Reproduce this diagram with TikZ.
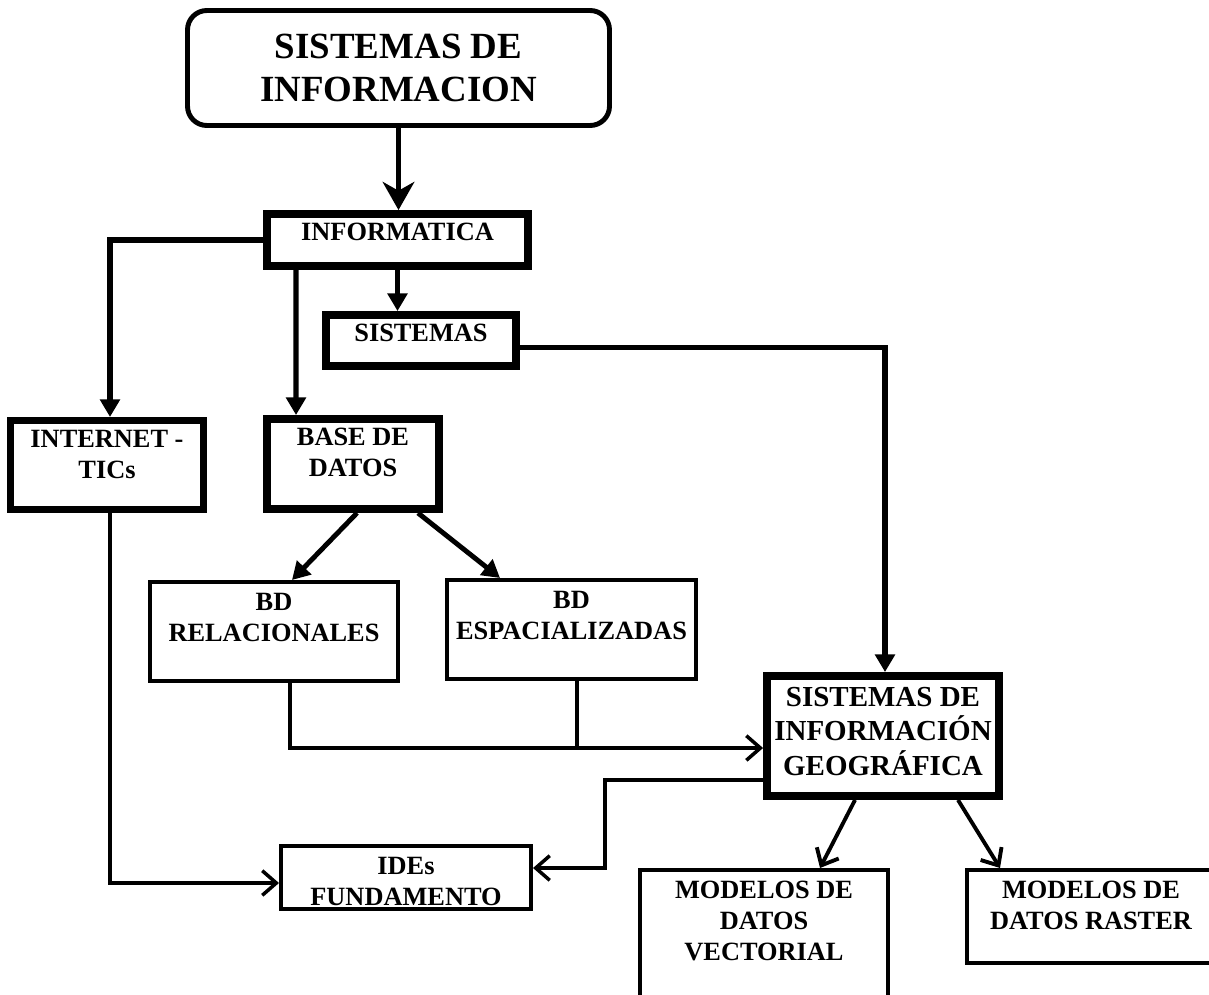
\documentclass[tikz,border=0pt]{standalone}
\usepackage{fontspec}
\setmainfont{Liberation Serif}
\usetikzlibrary{arrows.meta,positioning}

\tikzset{
  thickbox/.style={draw, line width=4.5pt, inner sep=0pt},
  thinbox/.style={draw, line width=2.3pt, inner sep=0pt},
  boxsize/.style 2 args={minimum width=#1*0.02cm, minimum height=#2*0.02cm},
  boxtext/.style={anchor=north, align=center, inner sep=0pt, yshift=-0.26cm,
    font=\bfseries\fontsize{15}{17.5}\selectfont},
  txt/.style={label={[boxtext]north:{#1}}},
  bigarrow/.style={line width=3pt, -{Triangle[length=10pt,width=11pt]}},
  thinarrow/.style={line width=2pt, -{Straight Barb[length=8pt,width=14pt]}}
}

\begin{document}
\begin{tikzpicture}[x=0.02cm, y=-0.02cm]
  \path[use as bounding box, clip] (0,0) rectangle (1209,994);

  % cajas
  \node[draw, line width=2.8pt, rounded corners=11pt, boxsize={422}{115}, align=center,
    font=\bfseries\fontsize{21}{24.4}\selectfont] (sisinfo) at (398.5,68)
    {SISTEMAS DE\\INFORMACION};

  \node[thickbox, boxsize={261}{52}, txt=INFORMATICA] (info) at (397.5,240) {};
  \node[thickbox, boxsize={190}{51}, txt=SISTEMAS] (sis) at (421,340.5) {};
  \node[thickbox, line width=4pt, boxsize={193}{89}, txt={INTERNET -\\TICs}] (inet) at (107,465) {};
  \node[thickbox, boxsize={172}{90}, txt={BASE DE\\DATOS}] (bd) at (353,464) {};

  \node[thinbox, boxsize={248}{99}, txt={BD\\RELACIONALES}] (bdrel) at (274,631.5) {};
  \node[thinbox, boxsize={249}{99}, txt={BD\\ESPACIALIZADAS}] (bdesp) at (571.5,629.5) {};

  \node[thickbox, boxsize={232}{120},
    label={[boxtext, yshift=-0.04cm, font=\bfseries\fontsize{16.5}{19.5}\selectfont]north:{SISTEMAS DE\\INFORMACIÓN\\GEOGRÁFICA}}]
    (sig) at (883,736) {};

  \node[thinbox, boxsize={250}{63}, txt={IDEs\\FUNDAMENTO}] (ides) at (406,877.5) {};
  \node[thinbox, boxsize={248}{140}, txt={MODELOS DE\\DATOS\\VECTORIAL}] (vect) at (764,940) {};
  \node[thinbox, boxsize={248}{93}, txt={MODELOS DE\\DATOS RASTER}] (raster) at (1091,916.5) {};

  % conexiones
  \draw[line width=3pt, -{Stealth[length=16pt,width=18pt,inset=5pt]}]
    (sisinfo.south) -- (sisinfo.south |- info.north);
  \draw[bigarrow] (info.west) -| ([xshift=0.06cm]inet.north);
  \draw[bigarrow] ([xshift=-2.03cm]info.south) -- ([xshift=-1.14cm]bd.north);
  \draw[bigarrow] (info.south) -- (info.south |- sis.north);
  \draw[bigarrow] ([yshift=-0.14cm]sis.east) -| ([xshift=0.04cm]sig.north);

  \draw[bigarrow, line width=2.8pt] ([xshift=0.08cm]bd.south) -- ([xshift=0.36cm]bdrel.north);
  \draw[bigarrow, line width=2.8pt] ([xshift=1.3cm]bd.south) -- ([xshift=-1.43cm]bdesp.north);

  \coordinate (union) at (577,748);
  \draw[thinarrow] ([xshift=0.32cm]bdrel.south) |- ([yshift=-0.24cm]sig.west);
  \draw[line width=2pt] (bdesp.south -| union) -- (union);

  \coordinate (codo) at (605,868);
  \draw[thinarrow] ([xshift=0.06cm]inet.south) |- ([yshift=-0.11cm]ides.west);
  \draw[thinarrow] ([yshift=-0.88cm]sig.west) -| (codo) -- (ides.east |- codo);

  \draw[thinarrow, line width=2.2pt] ([xshift=-0.56cm]sig.south) -- ([xshift=1.12cm]vect.north);
  \draw[thinarrow, line width=2.2pt] ([xshift=1.5cm]sig.south) -- ([xshift=-1.82cm]raster.north);
\end{tikzpicture}
\end{document}
